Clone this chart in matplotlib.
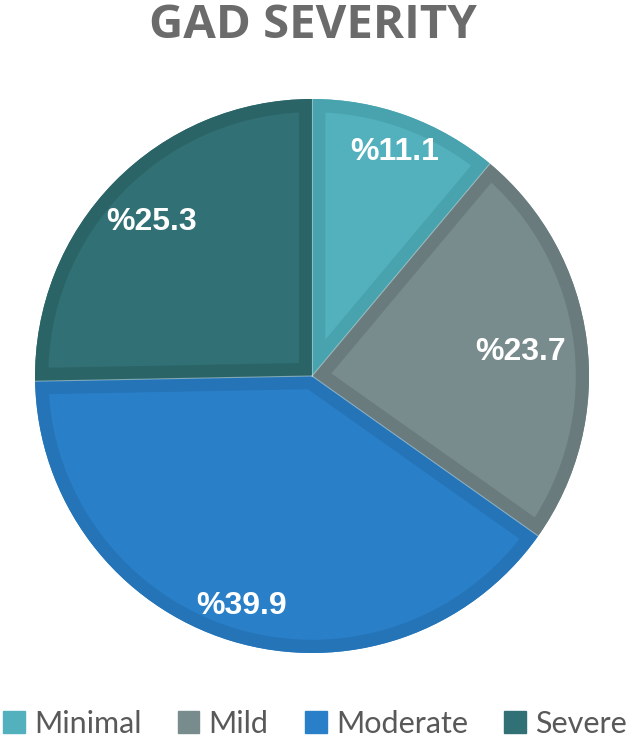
import matplotlib
matplotlib.use("Agg")
import matplotlib.pyplot as plt
from matplotlib.patches import Wedge
import numpy as np

categories = ["Minimal", "Mild", "Moderate", "Severe"]
values = [11.1, 23.7, 39.9, 25.3]
labels = ["%11.1", "%23.7", "%39.9", "%25.3"]

fill_colors = ["#52B1BD", "#788B8D", "#2980C8", "#317074"]
edge_colors = ["#48A3AE", "#697B7C", "#2474B7", "#2B6467"]
label_r = [0.87, 0.76, 0.86, 0.81]

fig = plt.figure(figsize=(6.3, 7.4), dpi=100)
ax = fig.add_axes([0.0556, 0.1176, 0.8794, 0.7486])

wedges, _ = ax.pie(values, colors=fill_colors, startangle=90, counterclock=False,
                   radius=1.0, center=(0, 0), frame=False,
                   wedgeprops=dict(linewidth=0))
ax.set_xlim(-1, 1)
ax.set_ylim(-1, 1)
ax.set_aspect("equal")
ax.axis("off")

# darker inner border on each slice (stroke clipped to the slice)
for w, ec in zip(wedges, edge_colors):
    clip = Wedge((0, 0), 1.0, w.theta1, w.theta2, transform=ax.transData)
    border = Wedge((0, 0), 1.0, w.theta1, w.theta2, facecolor="none",
                   edgecolor=ec, linewidth=19, joinstyle="miter")
    ax.add_patch(border)
    border.set_clip_path(clip)

# faint light separators between slices
for w in wedges:
    t = np.deg2rad(w.theta1)
    ax.plot([0, np.cos(t)], [0, np.sin(t)], color="#d8eaec", lw=0.8, alpha=0.45)

for w, lab, r in zip(wedges, labels, label_r):
    t = np.deg2rad((w.theta1 + w.theta2) / 2)
    ax.text(r * np.cos(t), r * np.sin(t) - 0.01, lab, ha="center", va="center",
            color="white", fontsize=23, fontweight="bold", family="Liberation Sans")

fig.text(0.497, 0.966, "GAD SEVERITY", ha="center", va="center",
         fontsize=34, fontweight="bold", color="#6b6b6b", family="Open Sans")

handles = [plt.Rectangle((0, 0), 1, 1, color=c) for c in fill_colors]
leg = fig.legend(handles, categories, loc="center", bbox_to_anchor=(0.5, 0.022),
                 ncol=4, frameon=False, handlelength=0.7, handleheight=0.7,
                 handletextpad=0.3, columnspacing=1.2,
                 prop=dict(family="Lato", size=22))
for t in leg.get_texts():
    t.set_color("#595959")

fig.savefig("out.png", dpi=100)
